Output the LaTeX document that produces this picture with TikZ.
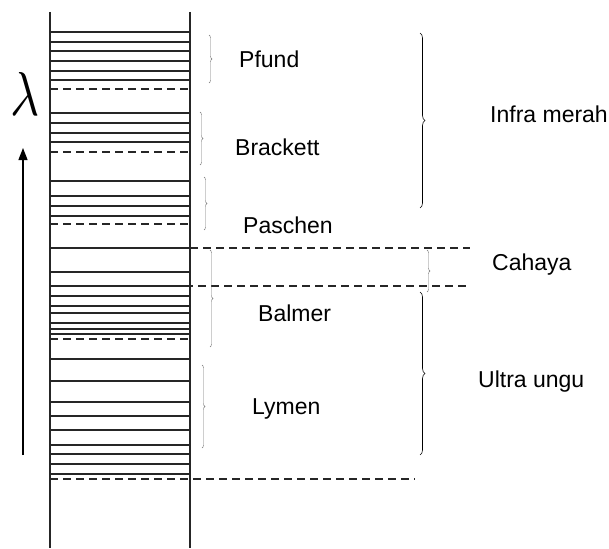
\documentclass[tikz,border=0pt]{standalone}
\usepackage{fontspec}
\setmainfont{Liberation Sans}
\usepackage{graphicx}
\usetikzlibrary{arrows.meta,decorations.pathreplacing}
\tikzset{
  rung/.style={line width=1.1pt, black!85},
  dashrung/.style={line width=1.1pt, black!85, dash pattern=on 8pt off 5pt},
  rail/.style={line width=1.3pt, black!85},
  smallbrace/.style={decorate, decoration={brace, amplitude=3pt}, line width=0.4pt, black!55},
  bigbrace/.style={decorate, decoration={brace, amplitude=5pt}, line width=0.6pt, black},
  lbl/.style={anchor=base west, inner sep=0pt, font=\fontsize{23}{27}\selectfont}
}
\begin{document}
\begin{tikzpicture}[x=1pt, y=-1pt]
\useasboundingbox (0,0) rectangle (609,548);
% rails
\draw[rail] (50,12) -- (50,548);
\draw[rail] (190,12) -- (190,548);
% solid rungs
\foreach \y in {32,42,51,61,71,80,113,123,133,142,181,196,206,216,248,272,286,296,306,313,323,329,334,359,381,402,416,430,445,454,464,474}
  \draw[rung] (50,\y) -- (190,\y);
% dashed rungs inside the column
\foreach \y in {89,152,224,339}
  \draw[dashrung] (50,\y) -- (190,\y);
% long dashed lines
\draw[dashrung] (190,248) -- (470,248);
\draw[dashrung] (172,286) -- (470,286);
\draw[dashrung] (50,479) -- (415,479);
% wavelength arrow and lambda
\coordinate (arrowfoot) at (23,455);
\coordinate (arrowtip) at (23,148);
\draw[line width=1.3pt, -{Triangle[length=12pt,width=9pt]}] (arrowfoot) -- (arrowtip);
\node[inner sep=0pt] (lambda) at (25,94) {\scalebox{5}[6.2]{$\lambda$}};
% small braces
\draw[smallbrace] (209,35) -- (209,83);
\draw[smallbrace] (200,112) -- (200,165);
\draw[smallbrace] (204,177) -- (204,230);
\draw[smallbrace] (210,250) -- (210,347);
\draw[smallbrace] (202,365) -- (202,448);
\draw[smallbrace] (427,250) -- (427,292);
% big braces
\draw[bigbrace] (420,33) -- (420,208);
\draw[bigbrace] (420,292) -- (420,455);
% labels
\node[lbl] (pfund) at (239,68) {Pfund};
\node[lbl] (brackett) at (235,155) {Brackett};
\node[lbl] (paschen) at (243,233) {Paschen};
\node[lbl] (balmer) at (258,321) {Balmer};
\node[lbl] (lymen) at (252,414) {Lymen};
\node[lbl] (infra) at (490,123) {Infra merah};
\node[lbl] (cahaya) at (492,270) {Cahaya};
\node[lbl] (ultra) at (478,387) {Ultra ungu};
\end{tikzpicture}
\end{document}
